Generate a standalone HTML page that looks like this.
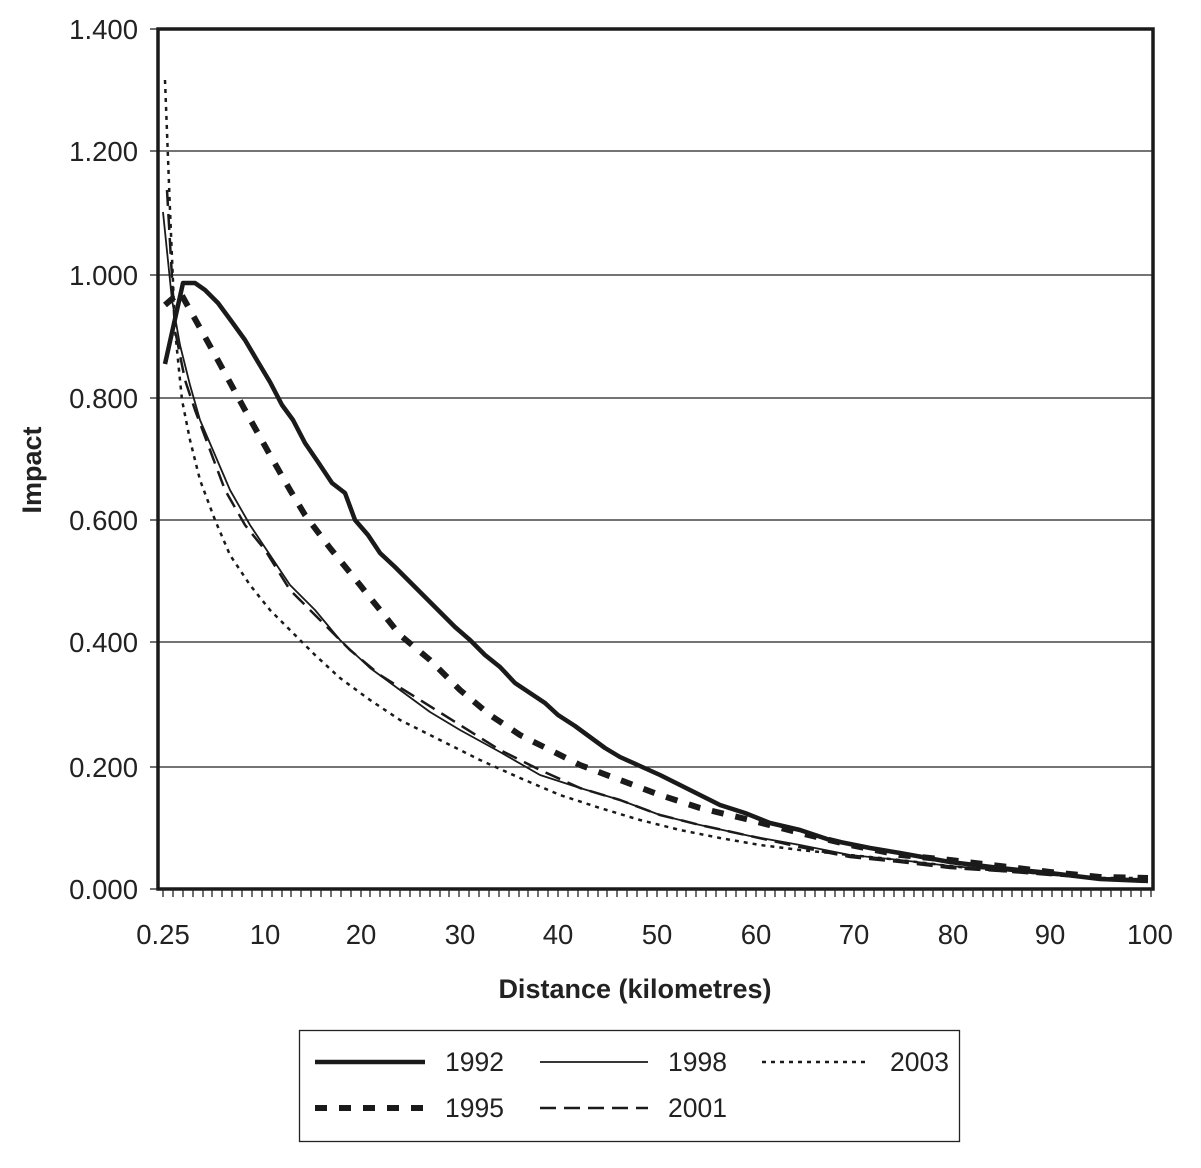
<!DOCTYPE html>
<html><head><style>body{margin:0;background:#fff}</style></head><body>
<svg width="1201" height="1163" viewBox="0 0 1201 1163" xmlns="http://www.w3.org/2000/svg" font-family="Liberation Sans, Arial, sans-serif">
<rect width="1201" height="1163" fill="#fff"/>
<g stroke="#222" stroke-width="1.3">
<line x1="158" y1="151" x2="1153" y2="151"/><line x1="158" y1="275" x2="1153" y2="275"/>
<line x1="158" y1="398" x2="1153" y2="398"/><line x1="158" y1="520" x2="1153" y2="520"/>
<line x1="158" y1="642" x2="1153" y2="642"/><line x1="158" y1="767" x2="1153" y2="767"/>
<line x1="150" y1="29" x2="158" y2="29"/><line x1="150" y1="151" x2="158" y2="151"/><line x1="150" y1="275" x2="158" y2="275"/><line x1="150" y1="398" x2="158" y2="398"/><line x1="150" y1="520" x2="158" y2="520"/><line x1="150" y1="642" x2="158" y2="642"/><line x1="150" y1="767" x2="158" y2="767"/><line x1="150" y1="889" x2="158" y2="889"/>
</g>
<rect x="158" y="29" width="995" height="860" fill="none" stroke="#1a1a1a" stroke-width="3.5"/>
<g font-size="27.5" fill="#222" text-anchor="end">
<text x="138" y="39">1.400</text><text x="138" y="161">1.200</text><text x="138" y="285">1.000</text><text x="138" y="408">0.800</text><text x="138" y="530">0.600</text><text x="138" y="652">0.400</text><text x="138" y="777">0.200</text><text x="138" y="899">0.000</text>
</g>
<g font-size="27.5" fill="#222" text-anchor="middle">
<text x="163" y="944">0.25</text><text x="265" y="944">10</text><text x="361" y="944">20</text><text x="460" y="944">30</text><text x="558" y="944">40</text><text x="657" y="944">50</text><text x="756" y="944">60</text><text x="854" y="944">70</text><text x="953" y="944">80</text><text x="1050" y="944">90</text><text x="1150" y="944">100</text>
</g>
<text x="635" y="998" font-size="27" font-weight="bold" text-anchor="middle" fill="#222">Distance (kilometres)</text>
<text transform="translate(41,470) rotate(-90)" font-size="27" font-weight="bold" text-anchor="middle" fill="#222">Impact</text>
<g fill="none" stroke="#1a1a1a" stroke-linejoin="round">
<polyline stroke-width="4.5" points="165,364 183,283 195,283 205,290 218,303 232,322 245,340 258,362 270,382 282,405 293,420 305,443 318,462 332,483 345,493 355,520 368,535 380,553 395,567 410,582 423,595 440,612 455,627 470,640 485,655 500,667 515,683 530,693 545,703 558,715 575,726 590,737 605,748 620,757 640,766 660,775 680,785 700,795 720,805 745,813 770,823 800,830 830,840 870,848 900,853 950,862 1000,868 1050,873 1100,879 1148,881"/>
<polyline stroke-width="6" stroke-dasharray="12,12" points="165,305 180,292 190,310 215,355 245,410 270,455 290,490 305,515 330,548 360,585 400,635 430,660 460,690 490,715 520,735 550,750 580,765 620,780 660,795 700,808 750,820 800,833 850,845 900,855 950,860 1000,866 1050,872 1100,877 1148,878"/>
<polyline stroke-width="1.8" points="163,212 172,300 180,345 190,385 200,420 215,455 230,490 250,525 270,555 290,585 315,610 340,640 370,668 400,690 430,712 460,730 500,752 540,775 580,788 620,800 660,815 700,825 750,836 800,845 850,855 900,860 950,866 1000,870 1050,875 1100,878 1148,879"/>
<polyline stroke-width="2.5" stroke-dasharray="16,8" points="167,190 175,330 185,380 195,410 210,450 225,490 245,525 265,550 290,590 320,620 350,650 380,675 420,700 460,725 500,750 540,770 580,788 620,800 660,815 700,825 750,836 800,847 850,857 900,862 950,868 1000,871 1050,875 1100,878 1148,880"/>
<polyline stroke-width="2.5" stroke-dasharray="4,5" points="165,80 170,210 175,330 182,400 190,440 200,480 215,520 230,555 250,585 270,610 290,630 315,655 340,678 370,700 400,720 440,740 480,760 520,778 560,795 600,808 640,820 680,830 720,838 760,845 800,850 850,855 900,860 950,866 1000,871 1050,874 1100,878 1148,878"/>
</g>
<rect x="299.5" y="1030.5" width="660" height="111" fill="none" stroke="#222" stroke-width="1.3"/>
<g fill="none" stroke="#1a1a1a">
<line x1="315" y1="1062" x2="425" y2="1062" stroke-width="4.5"/>
<line x1="540" y1="1062" x2="648" y2="1062" stroke-width="1.8"/>
<line x1="762" y1="1062" x2="870" y2="1062" stroke-width="2.5" stroke-dasharray="4,5"/>
<line x1="315" y1="1108" x2="425" y2="1108" stroke-width="6" stroke-dasharray="12,12"/>
<line x1="540" y1="1108" x2="648" y2="1108" stroke-width="2.5" stroke-dasharray="16,8"/>
</g>
<g font-size="26.5" fill="#222">
<text x="445" y="1071">1992</text><text x="668" y="1071">1998</text><text x="890" y="1071">2003</text>
<text x="445" y="1117">1995</text><text x="668" y="1117">2001</text>
</g>
<g stroke="#222" stroke-width="1.3">
<path d="M163 889v8M173 889v8M183 889v8M193 889v8M203 889v8M212 889v8M222 889v8M232 889v8M242 889v8M252 889v8M262 889v8M272 889v8M282 889v8M291 889v8M301 889v8M311 889v8M321 889v8M331 889v8M341 889v8M351 889v8M361 889v8M370 889v8M380 889v8M390 889v8M400 889v8M410 889v8M420 889v8M430 889v8M440 889v8M449 889v8M459 889v8M469 889v8M479 889v8M489 889v8M499 889v8M509 889v8M519 889v8M528 889v8M538 889v8M548 889v8M558 889v8M568 889v8M578 889v8M588 889v8M598 889v8M607 889v8M617 889v8M627 889v8M637 889v8M647 889v8M657 889v8M667 889v8M677 889v8M686 889v8M696 889v8M706 889v8M716 889v8M726 889v8M736 889v8M746 889v8M756 889v8M765 889v8M775 889v8M785 889v8M795 889v8M805 889v8M815 889v8M825 889v8M835 889v8M844 889v8M854 889v8M864 889v8M874 889v8M884 889v8M894 889v8M904 889v8M914 889v8M923 889v8M933 889v8M943 889v8M953 889v8M963 889v8M973 889v8M983 889v8M993 889v8M1002 889v8M1012 889v8M1022 889v8M1032 889v8M1042 889v8M1052 889v8M1062 889v8M1072 889v8M1081 889v8M1091 889v8M1101 889v8M1111 889v8M1121 889v8M1131 889v8M1141 889v8M1151 889v8"/>
</g>
</svg>
</body></html>
